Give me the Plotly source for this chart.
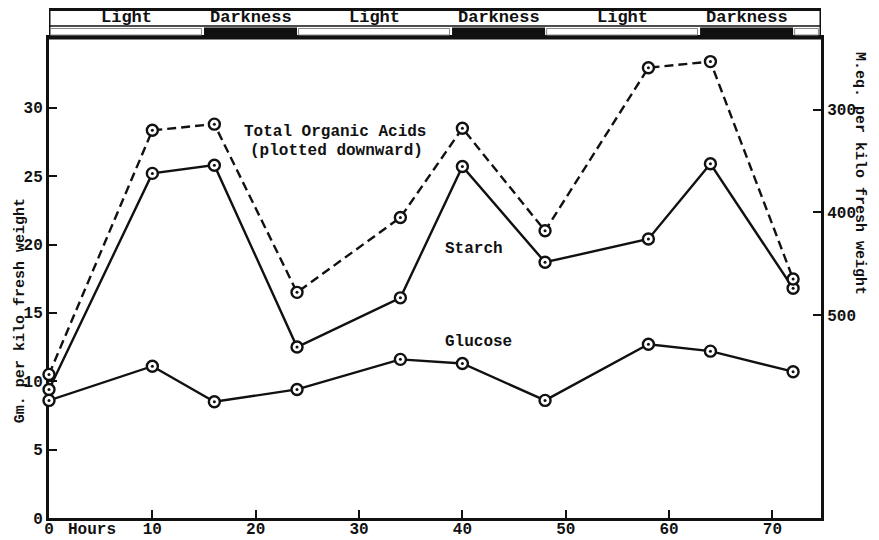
import plotly.graph_objects as go

# ---------------- data ----------------
hours = [0, 10, 16, 24, 34, 40, 48, 58, 64, 72]
starch = [9.4, 25.2, 25.8, 12.5, 16.1, 25.7, 18.7, 20.4, 25.9, 16.8]
glucose = [8.6, 11.1, 8.5, 9.4, 11.6, 11.3, 8.6, 12.7, 12.2, 10.7]
organic_acids = [558, 320, 314, 478, 405, 318, 418, 259, 253, 465]

period_labels = ["Light", "Darkness", "Light", "Darkness", "Light", "Darkness", ""]
period_start = [0, 15, 24, 39, 48, 63, 72]
period_end = [15, 24, 39, 48, 63, 72, 74.7]
period_dark = [False, True, False, True, False, True, False]

left_ticks = [0, 5, 10, 15, 20, 25, 30]
right_ticks = [300, 400, 500]
x_ticks = [0, 10, 20, 30, 40, 50, 60, 70]

FONT = "Liberation Mono"
BLACK = "#111111"

fig = go.Figure()

def add_series(x, y, dash, axis):
    fig.add_trace(go.Scatter(
        x=x, y=y, mode="lines+markers", yaxis=axis, cliponaxis=False,
        line=dict(color=BLACK, width=2.4, dash=dash),
        marker=dict(symbol="circle", size=11, color="white",
                    line=dict(color=BLACK, width=2.4)),
        showlegend=False, hoverinfo="x+y"))
    fig.add_trace(go.Scatter(
        x=x, y=y, mode="markers", yaxis=axis, cliponaxis=False,
        marker=dict(symbol="circle", size=3, color=BLACK),
        showlegend=False, hoverinfo="skip"))

add_series(hours, organic_acids, "9px,5px", "y2")
add_series(hours, starch, "solid", "y")
add_series(hours, glucose, "solid", "y")

# ---------------- light / dark band ----------------
def py(pix):  # page pixel row above plot -> paper y (plot top at 38px, height 480px)
    return 1 + (38 - pix) / 480.0

shapes = []
shapes.append(dict(type="rect", xref="x", yref="paper", x0=0, x1=74.7,
                   y0=1.0, y1=py(9.5), line=dict(color=BLACK, width=3),
                   fillcolor="rgba(0,0,0,0)", layer="above"))
shapes.append(dict(type="line", xref="x", yref="paper", x0=0, x1=74.7,
                   y0=py(26), y1=py(26), line=dict(color=BLACK, width=1.5)))
for s, e, d in zip(period_start, period_end, period_dark):
    if d:
        shapes.append(dict(type="rect", xref="x", yref="paper", x0=s, x1=e,
                           y0=py(36.5), y1=py(27.5), fillcolor=BLACK,
                           line=dict(width=0)))
    else:
        shapes.append(dict(type="rect", xref="x", yref="paper", x0=s + 0.15,
                           x1=e - 0.25, y0=py(35), y1=py(28.5), fillcolor="white",
                           line=dict(color="#888888", width=1)))

annotations = []
for s, e, lab in zip(period_start, period_end, period_labels):
    if lab:
        annotations.append(dict(x=(s + e) / 2, y=py(18), xref="x", yref="paper",
                                text="<b>%s</b>" % lab, showarrow=False,
                                font=dict(family=FONT, size=17, color=BLACK),
                                xanchor="center", yanchor="middle"))

for txt, xx, yy in [("Total Organic Acids", 27.7, 28.2),
                    ("(plotted downward)", 27.8, 26.85),
                    ("Starch", 41.1, 19.7),
                    ("Glucose", 41.6, 12.9)]:
    annotations.append(dict(x=xx, y=yy, xref="x", yref="y", text="<b>%s</b>" % txt,
                            showarrow=False, xanchor="center", yanchor="middle",
                            font=dict(family=FONT, size=16, color=BLACK)))

annotations.append(dict(x=1.6, y=-0.025, xref="x", yref="paper", text="<b>Hours</b>",
                        showarrow=False, xanchor="left", yanchor="middle",
                        font=dict(family=FONT, size=16, color=BLACK)))
annotations.append(dict(x=-0.0376, y=0.433, xref="paper", yref="paper",
                        text="<b>Gm. per kilo fresh weight</b>", textangle=-90,
                        showarrow=False, xanchor="center", yanchor="middle",
                        font=dict(family=FONT, size=15, color=BLACK)))
annotations.append(dict(x=1.049, y=0.717, xref="paper", yref="paper",
                        text="<b>M.eq. per kilo fresh weight</b>", textangle=90,
                        showarrow=False, xanchor="center", yanchor="middle",
                        font=dict(family=FONT, size=15, color=BLACK)))

tickfont = dict(family=FONT, size=16, color=BLACK)
common = dict(showline=True, linecolor=BLACK, linewidth=3, ticks="inside",
              ticklen=8, tickwidth=2, tickcolor=BLACK, showgrid=False,
              zeroline=False, tickfont=tickfont, layer="below traces",
              automargin=False)

# page has an 8px body margin: figure is placed at (8, 8) in the window
fig.update_layout(
    width=871, height=532,
    margin=dict(l=41, r=58, t=30, b=22, autoexpand=False),
    paper_bgcolor="white", plot_bgcolor="white",
    shapes=shapes, annotations=annotations,
    xaxis=dict(range=[0, 74.7], tickvals=x_ticks, ticklabelstandoff=-6,
               ticktext=["<b>%d</b>" % v for v in x_ticks], mirror=True, **common),
    yaxis=dict(range=[0, 35.1], tickvals=left_ticks,
               ticktext=["<b>%d</b>" % v for v in left_ticks], **common),
    yaxis2=dict(range=[698, 230], overlaying="y", side="right",
                tickvals=right_ticks,
                ticktext=["<b>%d</b>" % v for v in right_ticks], **common),
    showlegend=False,
)

fig.write_html("out.html")
